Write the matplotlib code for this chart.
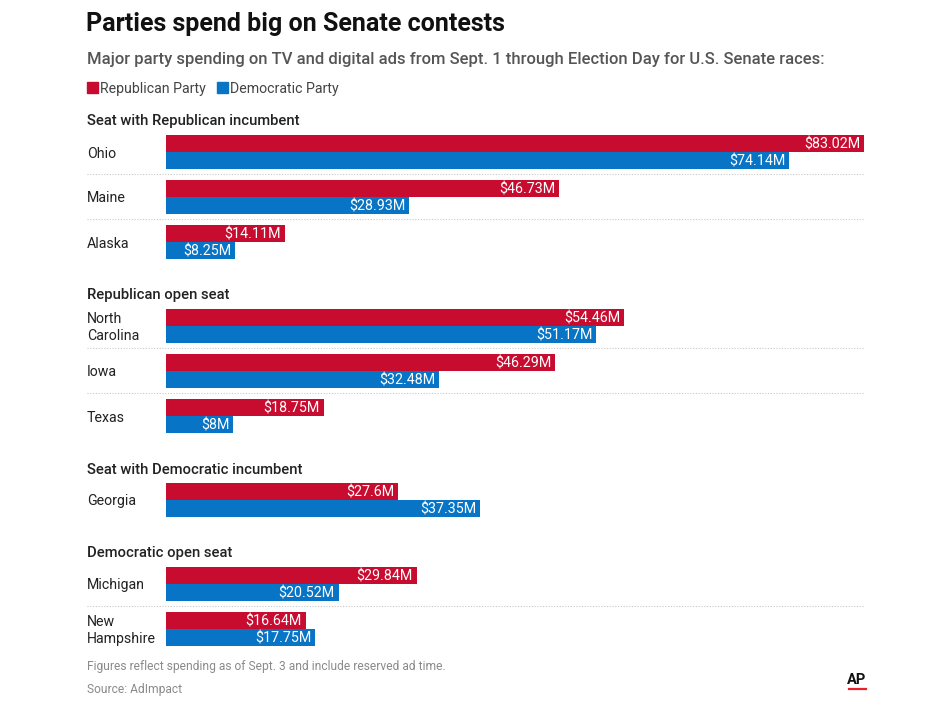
import matplotlib
matplotlib.use("Agg")
import matplotlib.pyplot as plt
from matplotlib.lines import Line2D
from matplotlib.patches import Rectangle

# ---------------- data ----------------
groups = ["Seat with Republican incumbent", "Republican open seat",
          "Seat with Democratic incumbent", "Democratic open seat"]
states = [["Ohio", "Maine", "Alaska"],
          ["North\nCarolina", "Iowa", "Texas"],
          ["Georgia"],
          ["Michigan", "New\nHampshire"]]
rep_values = [[83.02, 46.73, 14.11],
              [54.46, 46.29, 18.75],
              [27.6],
              [29.84, 16.64]]
dem_values = [[74.14, 28.93, 8.25],
              [51.17, 32.48, 8.0],
              [37.35],
              [20.52, 17.75]]
series_names = ["Republican Party", "Democratic Party"]

title = "Parties spend big on Senate contests"
subtitle = "Major party spending on TV and digital ads from Sept. 1 through Election Day for U.S. Senate races:"
note = "Figures reflect spending as of Sept. 3 and include reserved ad time."
source = "Source: AdImpact"

# ---------------- style ----------------
RED = "#C80C2F"
BLUE = "#0774C5"
FONT = ["Roboto", "DejaVu Sans"]
NARROW = ["Liberation Sans Narrow", "Roboto", "DejaVu Sans"]
plt.rcParams["font.family"] = FONT

W, H = 950, 712
fig = plt.figure(figsize=(W / 100, H / 100), dpi=100)
fig.patch.set_facecolor("white")

def fx(x):
    return x / W

def fy(y):
    return 1 - y / H

LEFT = 87
BAR0 = 166
BAR1 = 864
BAR_H = 17
TY = 1.5  # small downward text nudge (px)

ax = fig.add_axes([fx(BAR0), 0, (BAR1 - BAR0) / W, 1])
ax.set_xlim(0, max(max(r) for r in rep_values + dem_values))
ax.set_ylim(H, 0)
ax.axis("off")

# header texts
fig.text(fx(LEFT - 1), fy(23 + TY), title, fontsize=18, fontweight="bold",
         color="#111111", va="center", ha="left")
fig.text(fx(LEFT), fy(58 + TY), subtitle, fontsize=12, fontweight="medium",
         color="#555555", va="center", ha="left")

# legend
lx = LEFT
for name, col in zip(series_names, [RED, BLUE]):
    fig.add_artist(Rectangle((fx(lx), fy(93)), 11 / W, 11 / H, color=col,
                             transform=fig.transFigure))
    t = fig.text(fx(lx + 13), fy(87.5 + TY - 0.5), name, fontsize=10.2,
                 color="#444444", va="center", ha="left")
    fig.canvas.draw()
    bb = t.get_window_extent()
    lx = bb.x1 + 11

def fmt(v):
    return f"${v:g}M"

y = 135
for gi, (g, sts, rv, dv) in enumerate(zip(groups, states, rep_values, dem_values)):
    if gi > 0:
        y += 39
    fig.text(fx(LEFT), fy(y - 15 + TY), g, fontsize=10.6, fontweight="medium",
             color="#222222", va="center", ha="left")
    for ri, (s, r, d) in enumerate(zip(sts, rv, dv)):
        ax.barh(y, r, height=BAR_H, align="edge", color=RED, linewidth=0)
        ax.barh(y + BAR_H, d, height=BAR_H, align="edge", color=BLUE, linewidth=0)
        for val, yy in [(r, y), (d, y + BAR_H)]:
            ax.annotate(fmt(val), (val, yy + BAR_H / 2 + 1), xytext=(-4, 0),
                        textcoords="offset pixels", ha="right", va="center",
                        color="white", fontsize=10.3, family=NARROW)
        fig.text(fx(LEFT), fy(y + BAR_H + TY), s, fontsize=10.2, color="#222222",
                 va="center", ha="left", linespacing=1.2)
        if ri < len(sts) - 1:
            fig.add_artist(Line2D([fx(LEFT), fx(BAR1)], [fy(y + 39)] * 2,
                                  color="#c8c8c8", lw=0.8, ls=(0, (1, 1.5))))
        y += 45

fig.text(fx(LEFT), fy(665 + TY), note, fontsize=8.65, color="#8a8a8a",
         va="center", ha="left", family=NARROW)
fig.text(fx(LEFT), fy(688 + TY), source, fontsize=8.65, color="#8a8a8a",
         va="center", ha="left", family=NARROW)

# AP logo
fig.text(fx(857), fy(679 + TY), "AP", fontsize=10.5, fontweight="bold",
         color="#111111", va="center", ha="center", family=NARROW)
fig.add_artist(Line2D([fx(849), fx(866)], [fy(688.5)] * 2, color="#E8202A", lw=1.6))

fig.savefig("out.png", dpi=100, facecolor="white")
